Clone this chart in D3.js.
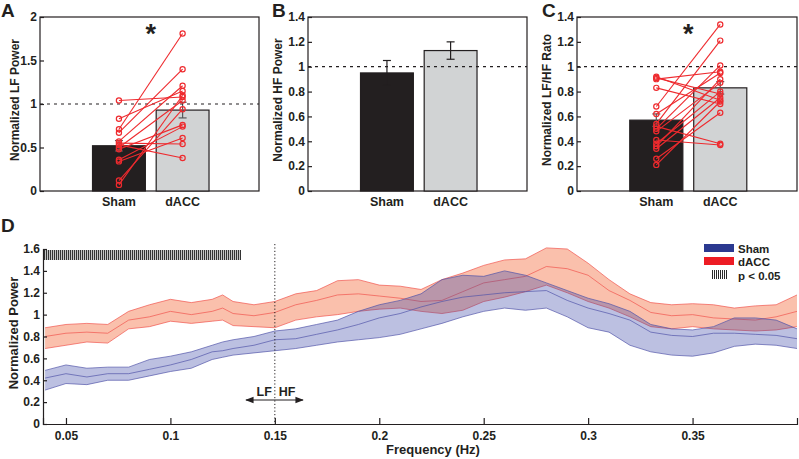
<!DOCTYPE html>
<html>
<head>
<meta charset="utf-8">
<script src="https://cdn.jsdelivr.net/npm/d3@7"></script>
<style>
    body { margin: 0; background: #ffffff; }
    svg { display: block; }
    text { font-family: 'Liberation Sans', Arial, sans-serif; font-weight: bold; fill: #231f20; }
</style>
</head>
<body>
<div id="chart"></div>
<script>
// bar panels
var categories = ['Sham', 'dACC'];

var lfMeans = [0.52, 0.93];
var lfErrLow = [0.46, 0.84];
var lfErrHigh = [0.58, 1.02];
var lfSham = [1.04, 0.83, 0.71, 0.67, 0.57, 0.55, 0.53, 0.50, 0.48, 0.36, 0.34, 0.12, 0.07];
var lfDacc = [1.08, 1.15, 1.81, 1.40, 1.21, 0.54, 0.38, 1.04, 0.76, 0.74, 0.61, 0.94, 1.10];

var hfMeans = [0.95, 1.13];
var hfErrLow = [0.85, 1.06];
var hfErrHigh = [1.05, 1.20];

var ratioMeans = [0.57, 0.83];
var ratioErrLow = [0.52, 0.78];
var ratioErrHigh = [0.62, 0.88];
var ratioSham = [0.92, 0.91, 0.90, 0.83, 0.68, 0.62, 0.54, 0.52, 0.50, 0.48, 0.41, 0.38, 0.36, 0.34, 0.26, 0.21];
var ratioDacc = [0.73, 0.78, 0.96, 0.70, 1.34, 0.95, 1.21, 0.38, 1.01, 0.87, 0.37, 0.80, 0.90, 0.75, 0.63, 0.72];

// spectrum panel
var freq = [0.04, 0.05, 0.06, 0.07, 0.08, 0.09, 0.10, 0.11, 0.12, 0.125, 0.13, 0.14, 0.15, 0.16, 0.17, 0.18, 0.19,
            0.20, 0.21, 0.22, 0.23, 0.24, 0.25, 0.26, 0.27, 0.28, 0.29, 0.30, 0.31, 0.32, 0.33, 0.34, 0.35,
            0.36, 0.37, 0.38, 0.39, 0.40];
var daccMean = [0.80, 0.83, 0.84, 0.83, 0.95, 0.98, 1.03, 1.00, 1.03, 1.06, 1.01, 0.99, 1.02, 1.09, 1.13, 1.18, 1.19,
                1.17, 1.15, 1.12, 1.13, 1.21, 1.29, 1.32, 1.35, 1.44, 1.42, 1.36, 1.22, 1.13, 1.02, 0.99, 1.00,
                0.97, 0.96, 0.95, 0.98, 1.03];
var daccUpper = [0.88, 0.91, 0.92, 0.91, 1.03, 1.09, 1.14, 1.11, 1.14, 1.18, 1.12, 1.09, 1.12, 1.19, 1.22, 1.31, 1.32,
                 1.27, 1.26, 1.23, 1.32, 1.38, 1.45, 1.50, 1.51, 1.61, 1.60, 1.47, 1.32, 1.19, 1.11, 1.09, 1.10,
                 1.09, 1.06, 1.08, 1.09, 1.18];
var daccLower = [0.69, 0.72, 0.75, 0.74, 0.87, 0.89, 0.94, 0.92, 0.94, 0.95, 0.90, 0.89, 0.88, 0.95, 0.98, 1.00, 1.03,
                 1.05, 1.06, 1.03, 1.01, 1.04, 1.12, 1.16, 1.21, 1.27, 1.20, 1.12, 1.06, 0.98, 0.89, 0.87, 0.89,
                 0.87, 0.86, 0.85, 0.86, 0.89];
var shamMean = [0.42, 0.46, 0.43, 0.46, 0.46, 0.50, 0.54, 0.59, 0.66, 0.67, 0.69, 0.72, 0.77, 0.78, 0.82, 0.86, 0.91,
                0.97, 1.01, 1.07, 1.12, 1.16, 1.18, 1.20, 1.21, 1.22, 1.13, 1.06, 1.01, 0.95, 0.84, 0.81, 0.80,
                0.83, 0.83, 0.82, 0.81, 0.78];
var shamUpper = [0.49, 0.54, 0.51, 0.52, 0.52, 0.59, 0.62, 0.66, 0.72, 0.75, 0.77, 0.80, 0.85, 0.87, 0.91, 0.95, 1.03,
                 1.09, 1.13, 1.19, 1.32, 1.36, 1.35, 1.40, 1.36, 1.29, 1.22, 1.15, 1.10, 1.03, 0.91, 0.87, 0.86,
                 0.89, 0.97, 0.97, 0.95, 0.87];
var shamLower = [0.31, 0.37, 0.36, 0.40, 0.40, 0.44, 0.48, 0.51, 0.59, 0.61, 0.63, 0.65, 0.67, 0.69, 0.72, 0.75, 0.77,
                 0.79, 0.82, 0.87, 0.92, 0.98, 1.03, 1.06, 1.04, 1.06, 0.98, 0.88, 0.84, 0.72, 0.66, 0.63, 0.62,
                 0.65, 0.71, 0.73, 0.72, 0.69];
var sigRange = [0.039, 0.134];   // p < 0.05 bins
var yTicksD = [0, 0.2, 0.4, 0.6, 0.8, 1, 1.2, 1.4, 1.6];
var xTicksD = [0.05, 0.1, 0.15, 0.2, 0.25, 0.3, 0.35];

var width = 799, height = 459;
var ink = '#231f20';
var barColors = ['#231f20', '#d1d3d4'];
var pointColor = '#ee2a2e';
var tickFont = '12px';

var svg = d3.select('#chart').append('svg')
        .attr('width', width)
        .attr('height', height);

var renderBarPanel = function(opts){
    var g = svg.append('g'),
        x = d3.scaleLinear().domain([-0.24, 3.2]).range([opts.left, opts.right]),
        y = d3.scaleLinear().domain([0, opts.yMax]).range([191, 17]),
        bw = 0.83;

    g.append('rect')
            .attr('x', opts.left).attr('y', 17)
            .attr('width', opts.right - opts.left).attr('height', 174)
            .attr('fill', 'none').attr('stroke', ink).attr('stroke-width', 1.2);

    g.selectAll('rect.bar').data(opts.means).enter().append('rect')
            .attr('class', 'bar')
            .attr('x', function(d, i){ return x(i + 1 - bw / 2); })
            .attr('y', function(d){ return y(d); })
            .attr('width', x(bw) - x(0))
            .attr('height', function(d){ return y(0) - y(d); })
            .attr('fill', function(d, i){ return barColors[i]; })
            .attr('stroke', ink).attr('stroke-width', 1.2);

    // error bars
    opts.means.forEach(function(d, i){
        var cx = x(i + 1), c = opts.errColor || ink;
        g.append('line').attr('x1', cx).attr('x2', cx)
                .attr('y1', y(opts.errLow[i])).attr('y2', y(opts.errHigh[i]))
                .attr('stroke', c).attr('stroke-width', 1.2);
        [opts.errLow[i], opts.errHigh[i]].forEach(function(v){
            g.append('line').attr('x1', cx - 4).attr('x2', cx + 4)
                    .attr('y1', y(v)).attr('y2', y(v))
                    .attr('stroke', c).attr('stroke-width', 1.2);
        });
    });

    g.append('line')
            .attr('x1', opts.left).attr('x2', opts.right)
            .attr('y1', y(1)).attr('y2', y(1))
            .attr('stroke', ink).attr('stroke-width', 1.2)
            .attr('stroke-dasharray', '3,4');

    if (opts.sham) {
        opts.sham.forEach(function(s, i){
            g.append('line')
                    .attr('x1', x(1)).attr('y1', y(s))
                    .attr('x2', x(2)).attr('y2', y(opts.dacc[i]))
                    .attr('stroke', pointColor).attr('stroke-width', 1.1);
        });
        opts.sham.forEach(function(s, i){
            [[1, s], [2, opts.dacc[i]]].forEach(function(p){
                g.append('circle')
                        .attr('cx', x(p[0])).attr('cy', y(p[1])).attr('r', 2.6)
                        .attr('fill', 'none').attr('stroke', pointColor).attr('stroke-width', 1.2);
            });
        });
    }

    var axis = d3.axisLeft(y).tickValues(opts.ticks).tickSize(-4).tickPadding(3)
            .tickFormat(d3.format('~g'));
    var ax = g.append('g').attr('transform', 'translate(' + opts.left + ',0)').call(axis);
    ax.select('.domain').remove();
    ax.selectAll('line').attr('stroke', ink).attr('stroke-width', 1.2);
    ax.selectAll('text').style('font-size', tickFont).attr('fill', ink);

    categories.forEach(function(c, i){
        g.append('text')
                .attr('x', x(i + 1)).attr('y', 206)
                .attr('text-anchor', 'middle')
                .style('font-size', '12.5px')
                .text(c);
    });

    g.append('text')
            .attr('text-anchor', 'middle')
            .attr('transform', 'translate(' + opts.labelX + ',100)rotate(-90)')
            .style('font-size', '12px')
            .text(opts.label);

    g.append('text')
            .attr('x', opts.letterX).attr('y', 17)
            .style('font-size', '19px')
            .text(opts.letter);

    if (opts.star) {
        g.append('text')
                .attr('x', x(1.5)).attr('y', 43)
                .attr('text-anchor', 'middle')
                .style('font-size', '27px')
                .text('*');
    }
};

renderBarPanel({left: 40, right: 259, yMax: 2, ticks: [0, 0.5, 1, 1.5, 2], means: lfMeans,
    errLow: lfErrLow, errHigh: lfErrHigh, errColor: '#58595b', sham: lfSham, dacc: lfDacc,
    label: 'Normalized LF Power', labelX: 19, letter: 'A', letterX: 1, star: true});

renderBarPanel({left: 308, right: 527, yMax: 1.4, ticks: [0, 0.2, 0.4, 0.6, 0.8, 1, 1.2, 1.4], means: hfMeans,
    errLow: hfErrLow, errHigh: hfErrHigh, label: 'Normalized HF Power', labelX: 282, letter: 'B', letterX: 272});

renderBarPanel({left: 577, right: 797, yMax: 1.4, ticks: [0, 0.2, 0.4, 0.6, 0.8, 1, 1.2, 1.4], means: ratioMeans,
    errLow: ratioErrLow, errHigh: ratioErrHigh, errColor: '#58595b', sham: ratioSham, dacc: ratioDacc,
    label: 'Normalized LF/HF Rato', labelX: 551, letter: 'C', letterX: 542, star: true});

// panel D
var renderSpectrum = function(){
    var g = svg.append('g'),
        x = d3.scaleLinear().domain([0.039, 0.4]).range([43, 797]),
        y = d3.scaleLinear().domain([0, 1.6]).range([424, 249]);

    var series = [
        {mean: daccMean, upper: daccUpper, lower: daccLower, fill: '#f4693a', fillOp: 0.42, line: '#f0504a'},
        {mean: shamMean, upper: shamUpper, lower: shamLower, fill: '#3b45a6', fillOp: 0.34, line: '#4f52a8'}
    ];

    series.forEach(function(s){
        var area = d3.area()
                .x(function(d, i){ return x(freq[i]); })
                .y0(function(d, i){ return y(s.lower[i]); })
                .y1(function(d, i){ return y(s.upper[i]); });
        g.append('path').datum(freq).attr('d', area)
                .attr('fill', s.fill).attr('fill-opacity', s.fillOp);
        [s.upper, s.mean, s.lower].forEach(function(vals){
            var line = d3.line()
                    .x(function(d, i){ return x(freq[i]); })
                    .y(function(d){ return y(d); });
            g.append('path').datum(vals).attr('d', line)
                    .attr('fill', 'none').attr('stroke', s.line)
                    .attr('stroke-width', 0.8).attr('stroke-opacity', 0.85);
        });
    });

    // significance hatch, snapped to whole pixels so the stripes stay crisp
    var hx0 = Math.round(x(sigRange[0])), hx1 = Math.round(x(sigRange[1])),
        hy0 = Math.round(y(1.59)), hy1 = Math.round(y(1.5));
    g.append('rect').attr('x', hx0).attr('y', hy0)
            .attr('width', hx1 - hx0).attr('height', hy1 - hy0)
            .attr('fill', '#c4c4c4');
    d3.range(hx0 + 1, hx1, 2).forEach(function(px){
        g.append('line').attr('x1', px + 0.5).attr('x2', px + 0.5)
                .attr('y1', hy0).attr('y2', hy1)
                .attr('stroke', '#333333').attr('stroke-width', 1);
    });

    // LF / HF divider
    g.append('line')
            .attr('x1', x(0.15)).attr('x2', x(0.15))
            .attr('y1', 244).attr('y2', y(0))
            .attr('stroke', ink).attr('stroke-width', 1)
            .attr('stroke-dasharray', '1.2,2.2');

    var defs = svg.append('defs');
    defs.append('marker').attr('id', 'arrow')
            .attr('viewBox', '0 0 10 10').attr('refX', 9).attr('refY', 5)
            .attr('markerWidth', 7).attr('markerHeight', 7)
            .attr('orient', 'auto-start-reverse')
            .append('path').attr('d', 'M0,1 L10,5 L0,9 Z').attr('fill', ink);
    g.append('line')
            .attr('x1', 246).attr('x2', 303).attr('y1', 400).attr('y2', 400)
            .attr('stroke', ink).attr('stroke-width', 1.2)
            .attr('marker-start', 'url(#arrow)').attr('marker-end', 'url(#arrow)');
    g.append('text').attr('x', x(0.15) - 3).attr('y', 396).attr('text-anchor', 'end')
            .style('font-size', '12.5px').text('LF');
    g.append('text').attr('x', x(0.15) + 4).attr('y', 396)
            .style('font-size', '12.5px').text('HF');

    var yAx = g.append('g').attr('transform', 'translate(43,0)')
            .call(d3.axisLeft(y).tickValues(yTicksD).tickSize(-4).tickPadding(3).tickFormat(d3.format('~g')));
    yAx.select('.domain').attr('stroke', ink).attr('stroke-width', 1.2);
    yAx.selectAll('line').attr('stroke', ink).attr('stroke-width', 1.2);
    yAx.selectAll('text').style('font-size', tickFont).attr('fill', ink);

    var xAx = g.append('g').attr('transform', 'translate(0,424)')
            .call(d3.axisBottom(x).tickValues(xTicksD).tickSize(-6).tickPadding(7).tickFormat(d3.format('~g')));
    xAx.select('.domain').attr('stroke', ink).attr('stroke-width', 1.2);
    xAx.selectAll('line').attr('stroke', ink).attr('stroke-width', 1.2);
    xAx.selectAll('text').style('font-size', tickFont).attr('fill', ink);

    g.append('text').attr('x', 433).attr('y', 454).attr('text-anchor', 'middle')
            .style('font-size', '13px').text('Frequency (Hz)');
    g.append('text').attr('text-anchor', 'middle')
            .attr('transform', 'translate(18,333)rotate(-90)')
            .style('font-size', '13px').text('Normalized Power');
    g.append('text').attr('x', 1).attr('y', 232).style('font-size', '19px').text('D');

    // legend
    var legend = g.append('g');
    legend.append('rect').attr('x', 704).attr('y', 244).attr('width', 30).attr('height', 8).attr('fill', '#2b3990');
    legend.append('rect').attr('x', 704).attr('y', 257).attr('width', 30).attr('height', 8).attr('fill', '#ed1c24');
    d3.range(712, 728, 2).forEach(function(px){
        legend.append('line').attr('x1', px + 0.5).attr('x2', px + 0.5).attr('y1', 270).attr('y2', 279)
                .attr('stroke', '#2b2b2b').attr('stroke-width', 1);
    });
    [['Sham', 252.5], ['dACC', 266], ['p < 0.05', 279.5]].forEach(function(t){
        legend.append('text').attr('x', 738).attr('y', t[1]).style('font-size', '11.5px').text(t[0]);
    });
};

renderSpectrum();
</script>
</body>
</html>
